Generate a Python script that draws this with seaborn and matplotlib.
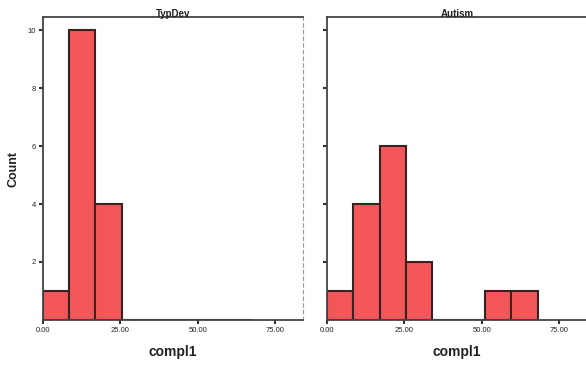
import numpy as np
import pandas as pd
import matplotlib
matplotlib.use("Agg")
import matplotlib.pyplot as plt
import seaborn as sns

sns.set_style("white")
plt.rcParams["font.family"] = ["Liberation Sans", "DejaVu Sans"]

# Histogram bins for compl1 (width 8.5)
bin_edges = [0.0, 8.5, 17.0, 25.5, 34.0, 42.5, 51.0, 59.5, 68.0]
groups = ["TypDev", "Autism"]
typdev_counts = [1, 10, 4, 0, 0, 0, 0, 0]
autism_counts = [1, 4, 6, 2, 0, 0, 1, 1]
x_ticks = [0, 25, 50, 75]
x_tick_labels = ["0.00", "25.00", "50.00", "75.00"]
y_ticks = [2, 4, 6, 8, 10]

centers = [(a + b) / 2 for a, b in zip(bin_edges[:-1], bin_edges[1:])]
df = pd.DataFrame({
    "compl1": centers * 2,
    "Count": typdev_counts + autism_counts,
    "group": [groups[0]] * len(centers) + [groups[1]] * len(centers),
})

fig = plt.figure(figsize=(5.86, 3.72), dpi=100)
ax1 = fig.add_axes([0.073, 0.14, 0.444, 0.814])
ax2 = fig.add_axes([0.558, 0.14, 0.444, 0.814], sharey=ax1)

bar_color = "#F4575A"
edge_color = "#3b2222"

for ax, g in zip([ax1, ax2], groups):
    sub = df[df["group"] == g]
    sns.histplot(data=sub, x="compl1", weights="Count", bins=bin_edges,
                 color=bar_color, edgecolor=edge_color, linewidth=1.5,
                 alpha=1.0, ax=ax)
    ax.set_xlim(0, 84)
    ax.set_ylim(0, 10.45)
    ax.set_xticks(x_ticks)
    ax.set_xticklabels(x_tick_labels, fontsize=5.5)
    ax.set_yticks(y_ticks)
    ax.set_xlabel("compl1", fontsize=10, fontweight="bold", color="#222222", labelpad=8)
    ax.set_title(g, fontsize=7, fontweight="bold", color="#222222", pad=0)
    ax.tick_params(axis="both", which="major", direction="out", length=3,
                   width=1.5, pad=2, color="#333333", labelcolor="#222222",
                   bottom=True, left=True)
    for side in ["left", "bottom", "top"]:
        ax.spines[side].set_color("#444444")
        ax.spines[side].set_linewidth(1.3)
    ax.spines["right"].set_color("#999999")
    ax.spines["right"].set_linewidth(0.8)
    ax.spines["right"].set_linestyle((0, (3, 3)))

ax1.set_ylabel("Count", fontsize=9, fontweight="bold", color="#222222", labelpad=6)
ax1.set_yticklabels([str(t) for t in y_ticks], fontsize=5.5)
ax2.set_ylabel("")
ax2.tick_params(axis="y", labelleft=False)

fig.savefig("out.png", dpi=100)
